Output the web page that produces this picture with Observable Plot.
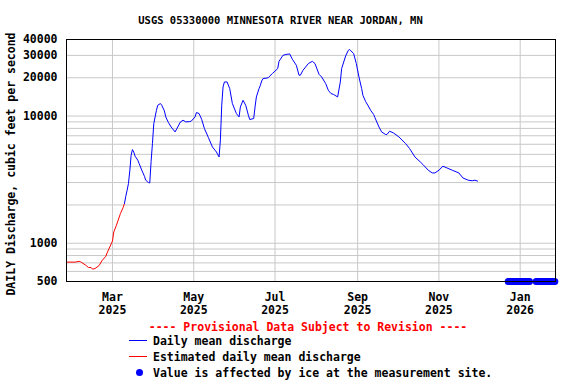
<!DOCTYPE html>
<html><head><meta charset="utf-8">
<script src="https://cdn.jsdelivr.net/npm/d3@7"></script>
<script src="https://cdn.jsdelivr.net/npm/@observablehq/plot@0.6"></script>
<style>
body{margin:0;background:#fff;}
#wrap{position:relative;width:576px;height:384px;overflow:hidden;background:#fff;font-family:"DejaVu Sans Mono",monospace;font-weight:bold;color:#000;}
.t{position:absolute;white-space:pre;font-size:11.5px;line-height:12px;z-index:2;}
#title{left:0;width:561px;text-align:center;top:14px;font-size:10.5px;}
#ylab{left:-139px;top:158px;width:300px;text-align:center;transform:rotate(-90deg);}
#chart{position:absolute;left:0;top:30px;z-index:1;}
svg.leg{position:absolute;left:0;top:0;z-index:2;}
</style></head>
<body><div id="wrap">
<div class="t" id="title">USGS 05330000 MINNESOTA RIVER NEAR JORDAN, MN</div>
<div id="chart"></div>
<div class="t" id="ylab">DAILY Discharge, cubic feet per second</div>
<div class="t" style="left:0;width:616px;text-align:center;top:321px;color:#ff0000">---- Provisional Data Subject to Revision ----</div>
<div class="t" style="left:153px;top:335px">Daily mean discharge</div>
<div class="t" style="left:153px;top:351px">Estimated daily mean discharge</div>
<div class="t" style="left:153px;top:367px">Value is affected by ice at the measurement site.</div>
<svg class="leg" width="576" height="384">
<line x1="129" x2="147" y1="340.5" y2="340.5" stroke="#0000ff" stroke-width="1"/>
<line x1="129" x2="147" y1="356.5" y2="356.5" stroke="#ff0000" stroke-width="1"/>
<circle cx="139.5" cy="372.5" r="3.5" fill="#0000ff"/>
</svg>
</div>
<script>
// Estimated daily mean discharge (red)
const estDates = ["2025-01-26","2025-02-01","2025-02-04","2025-02-05","2025-02-09","2025-02-11","2025-02-13","2025-02-14","2025-02-16","2025-02-19","2025-02-21","2025-02-24","2025-02-25","2025-02-27","2025-03-01","2025-03-02","2025-03-04","2025-03-05","2025-03-07","2025-03-09","2025-03-10"];
const estValues = [710,710,720,715,671,644,644,625,633,668,726,790,839,935,1040,1227,1385,1490,1712,1909,2050];

// Daily mean discharge (blue)
const dailyDates = ["2025-03-10","2025-03-11","2025-03-12","2025-03-13","2025-03-14","2025-03-15","2025-03-16","2025-03-17","2025-03-18","2025-03-20","2025-03-21","2025-03-23","2025-03-25","2025-03-26","2025-03-28","2025-03-29","2025-03-30","2025-03-31","2025-04-01","2025-04-02","2025-04-03","2025-04-04","2025-04-06","2025-04-07","2025-04-09","2025-04-10","2025-04-12","2025-04-14","2025-04-17","2025-04-19","2025-04-21","2025-04-23","2025-04-25","2025-04-28","2025-04-29","2025-05-02","2025-05-03","2025-05-05","2025-05-07","2025-05-09","2025-05-12","2025-05-15","2025-05-18","2025-05-20","2025-05-21","2025-05-22","2025-05-23","2025-05-24","2025-05-26","2025-05-28","2025-05-30","2025-06-02","2025-06-04","2025-06-05","2025-06-07","2025-06-09","2025-06-11","2025-06-12","2025-06-15","2025-06-16","2025-06-17","2025-06-19","2025-06-20","2025-06-21","2025-06-22","2025-06-25","2025-06-26","2025-06-29","2025-07-03","2025-07-04","2025-07-07","2025-07-10","2025-07-12","2025-07-14","2025-07-17","2025-07-19","2025-07-20","2025-07-22","2025-07-26","2025-07-29","2025-07-31","2025-08-03","2025-08-05","2025-08-08","2025-08-10","2025-08-12","2025-08-14","2025-08-17","2025-08-19","2025-08-20","2025-08-23","2025-08-25","2025-08-26","2025-08-29","2025-08-31","2025-09-02","2025-09-04","2025-09-05","2025-09-07","2025-09-09","2025-09-11","2025-09-13","2025-09-14","2025-09-17","2025-09-19","2025-09-22","2025-09-23","2025-09-25","2025-09-28","2025-10-02","2025-10-07","2025-10-10","2025-10-14","2025-10-18","2025-10-20","2025-10-24","2025-10-27","2025-10-29","2025-11-01","2025-11-04","2025-11-07","2025-11-11","2025-11-16","2025-11-19","2025-11-23","2025-11-26","2025-11-28","2025-11-30"];
const dailyValues = [2050,2340,2610,2950,3700,4920,5450,5200,4830,4500,4230,3750,3360,3130,3000,2980,4400,6080,8700,9840,11100,12160,12540,12160,10960,9840,8890,8210,7500,8210,8990,9270,9000,9050,9100,9840,10660,10470,9390,7980,6780,5720,5220,4770,6500,12160,16940,18540,18540,16450,12540,10470,9840,11790,13310,12160,10150,9390,9560,11790,14130,16450,17460,18880,19700,19920,20090,21590,23630,26960,30070,30620,30800,27960,25090,20940,20940,22910,25870,26960,25870,21310,20300,18010,15950,15030,14780,14130,18540,23630,29690,32890,33350,31000,25870,20300,16450,14500,13000,12000,11000,10300,9700,8210,7500,7160,7160,7600,7350,6850,6080,5550,4770,4360,4160,3750,3570,3570,3750,4030,3910,3750,3570,3260,3130,3100,3130,3080];

// Ice-affected days
const iceDates = ["2025-12-23","2025-12-24","2025-12-25","2025-12-26","2025-12-27","2025-12-28","2025-12-29","2025-12-30","2025-12-31","2026-01-01","2026-01-02","2026-01-03","2026-01-04","2026-01-05","2026-01-06","2026-01-07","2026-01-08","2026-01-13","2026-01-14","2026-01-15","2026-01-16","2026-01-17","2026-01-18","2026-01-19","2026-01-20","2026-01-21","2026-01-22","2026-01-23","2026-01-24","2026-01-25","2026-01-26","2026-01-27"];

// Axis ticks and grid
const yTickValues = [500,1000,10000,20000,30000,40000];
const yGridValues = [600,700,800,900,1000,2000,3000,4000,5000,6000,7000,8000,9000,10000,20000,30000];
const yDomain = [500, 40000];
const xTickDates = ["2025-03-01","2025-05-01","2025-07-01","2025-09-01","2025-11-01","2026-01-01"];
const xDomain = ["2025-01-25T12:00:00Z","2026-01-27T12:00:00Z"];

const est = estDates.map((d,i)=>({date:new Date(d), q:estValues[i]}));
const daily = dailyDates.map((d,i)=>({date:new Date(d), q:dailyValues[i]}));
const ice = iceDates.map(d=>({date:new Date(d)}));
const xTicks = xTickDates.map(d=>new Date(d));

const chart = Plot.plot({
  width: 576, height: 290,
  marginLeft: 66, marginRight: 21, marginTop: 9, marginBottom: 39,
  x: {type: "utc", domain: xDomain.map(d=>new Date(d))},
  y: {type: "log", domain: yDomain, axis: null},
  style: {fontFamily: "DejaVu Sans Mono", fontSize: "11.5px", fontWeight: "bold", background: "transparent", color: "black", overflow: "visible"},
  marks: [
    Plot.gridY(yGridValues, {stroke: "#c8c8c8", strokeOpacity: 1}),
    Plot.gridX(xTicks, {stroke: "#c8c8c8", strokeOpacity: 1}),
    Plot.line(est, {x: "date", y: "q", stroke: "#ff0000", strokeWidth: 1}),
    Plot.line(daily, {x: "date", y: "q", stroke: "#0000ff", strokeWidth: 1}),
    Plot.dot(ice, {x: "date", frameAnchor: "bottom", r: 3.5, fill: "#0000ff", stroke: "none"}),
    Plot.frame({stroke: "black", strokeWidth: 1}),
    Plot.text(yTickValues, {y: d => d, frameAnchor: "left", dx: -9, textAnchor: "end", text: d => d3.format("d")(d), fill: "black"}),
    Plot.axisX(xTicks, {tickSize: 0, tickPadding: 10, lineHeight: 1.13, tickFormat: d => d3.utcFormat("%b")(d) + "\n" + d3.utcFormat("%Y")(d), label: null})
  ]
});
document.getElementById("chart").appendChild(chart);
</script>
</body></html>
